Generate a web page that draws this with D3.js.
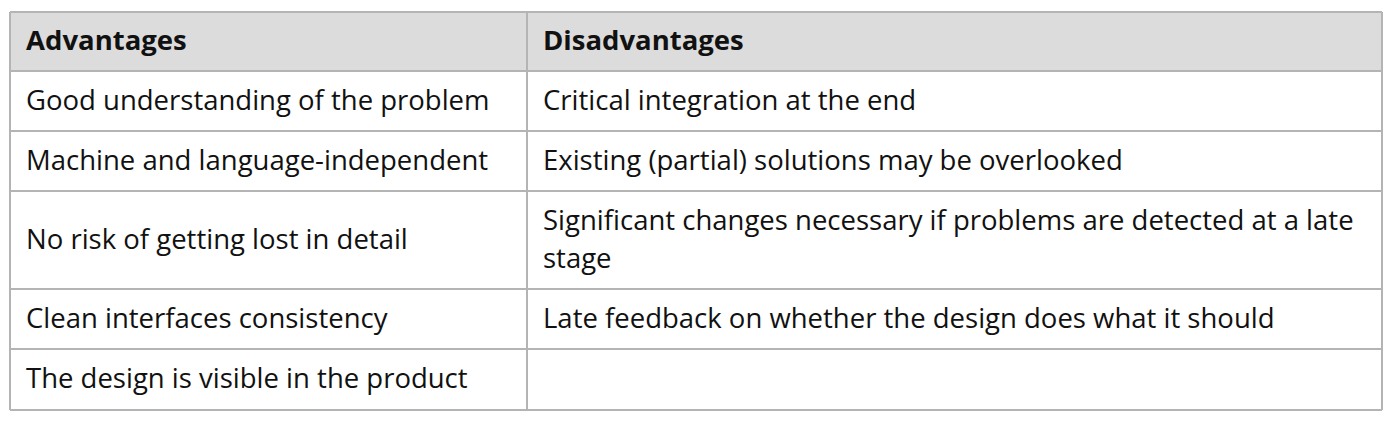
<!DOCTYPE html>
<html><head><meta charset="utf-8">
<script src="https://cdn.jsdelivr.net/npm/d3@7"></script>
<style>body{margin:0;background:#fff}</style>
</head><body><svg id="chart" width="1393" height="424"></svg>
<script>
var headers = ["Advantages", "Disadvantages"];
var advantages = ["Good understanding of the problem", "Machine and language-independent", "No risk of getting lost in detail", "Clean interfaces consistency", "The design is visible in the product"];
var disadvantages = [["Critical integration at the end"], ["Existing (partial) solutions may be overlooked"], ["Significant changes necessary if problems are detected at a late", "stage"], ["Late feedback on whether the design does what it should"], []];
var rowHeights = [59, 60, 60, 98, 60, 61];

var svg = d3.select("#chart");
var x0 = 10, x1 = 527, x2 = 1382, y0 = 12;
var font = "'Open Sans', sans-serif";

var ys = [y0];
rowHeights.forEach(function(h){ ys.push(ys[ys.length-1] + h) });

svg.append("rect").attr("x", x0).attr("y", ys[0]).attr("width", x2-x0).attr("height", rowHeights[0]).attr("fill", "#dcdcdc");

// grid lines
svg.selectAll("line.h").data(ys).enter().append("line")
	.attr("x1", x0).attr("x2", x2).attr("y1", function(d){ return d }).attr("y2", function(d){ return d })
	.attr("stroke", "#b4b4b4").attr("stroke-width", 2);
svg.selectAll("line.v").data([x0, x1, x2]).enter().append("line")
	.attr("x1", function(d){ return d }).attr("x2", function(d){ return d }).attr("y1", ys[0]).attr("y2", ys[ys.length-1])
	.attr("stroke", "#b4b4b4").attr("stroke-width", 2);

function cell(x, top, h, lines, bold){
	var lh = 38, start = top + h/2 - (lines.length-1)*lh/2;
	lines.forEach(function(t, i){
		svg.append("text").attr("x", x + 16).attr("y", start + i*lh - 1).attr("dy", "0.35em")
			.attr("font-family", font).attr("font-size", 27.5).attr("font-weight", bold ? "bold" : "normal")
			.attr("fill", "#111").text(t);
	});
}
cell(x0, ys[0], rowHeights[0], [headers[0]], true);
cell(x1, ys[0], rowHeights[0], [headers[1]], true);
advantages.forEach(function(a, i){
	cell(x0, ys[i+1], rowHeights[i+1], [a], false);
	cell(x1, ys[i+1], rowHeights[i+1], disadvantages[i], false);
});
</script></body></html>
